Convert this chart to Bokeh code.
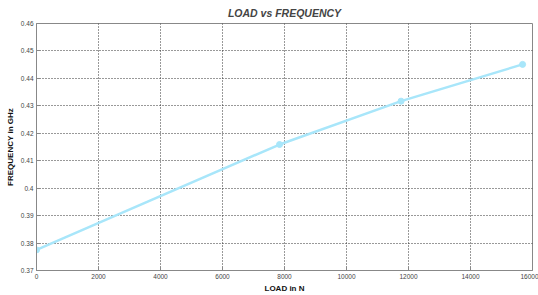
from bokeh.plotting import figure
from bokeh.models import FixedTicker, Range1d
from bokeh.embed import file_html
from bokeh.resources import INLINE

# data
load_n = [0, 7840, 11760, 15680]
freq_ghz = [0.3775, 0.4159, 0.4317, 0.4451]

x_ticks = [0, 2000, 4000, 6000, 8000, 10000, 12000, 14000, 16000]
x_tick_labels = ["0", "2000", "4000", "6000", "8000", "10000", "12000", "14000", "16000"]
y_ticks = [0.37, 0.38, 0.39, 0.40, 0.41, 0.42, 0.43, 0.44, 0.45, 0.46]
y_tick_labels = ["0.37", "0.38", "0.39", "0.4", "0.41", "0.42", "0.43", "0.44", "0.45", "0.46"]

FONT = "Liberation Sans"
LINE = "#a8e6fa"

p = figure(width=538, height=295, output_backend="svg", toolbar_location=None,
           x_range=Range1d(0, 16000), y_range=Range1d(0.37, 0.46),
           min_border_left=36, min_border_right=6, min_border_top=22, min_border_bottom=22,
           title="LOAD vs FREQUENCY")

p.title.text_font = FONT
p.title.text_font_size = "10.5px"
p.title.text_font_style = "bold italic"
p.title.align = "center"
p.title.offset = 0
p.title.standoff = 9

p.line(load_n, freq_ghz, line_color=LINE, line_width=2.5)
p.scatter(load_n, freq_ghz, size=6, fill_color=LINE, line_color=LINE)

p.xaxis.ticker = FixedTicker(ticks=x_ticks)
p.yaxis.ticker = FixedTicker(ticks=y_ticks)
p.xaxis.major_label_overrides = {t: s for t, s in zip(x_ticks, x_tick_labels)}
p.yaxis.major_label_overrides = {t: s for t, s in zip(y_ticks, y_tick_labels)}

p.xaxis.axis_label = "LOAD in N"
p.yaxis.axis_label = "FREQUENCY in GHz"

for ax in (p.xaxis[0], p.yaxis[0]):
    ax.axis_label_text_font = FONT
    ax.axis_label_text_font_size = "8px"
    ax.axis_label_text_font_style = "bold"
    ax.axis_label_text_color = "#111111"
    ax.major_label_text_font = FONT
    ax.major_label_text_font_size = "6.5px"
    ax.major_label_text_color = "#444444"
    ax.axis_line_color = "#888888"
    ax.major_tick_line_color = "#888888"
    ax.major_tick_in = 4
    ax.major_tick_out = 0
    ax.minor_tick_line_color = None

p.xaxis.major_label_standoff = 3
p.xaxis.axis_label_standoff = 2
p.yaxis.major_label_standoff = 3
p.yaxis.axis_label_standoff = 3

p.grid.grid_line_color = "#333333"
p.grid.grid_line_dash = "1 2"
p.grid.grid_line_width = 1
p.outline_line_color = "#888888"
p.outline_line_width = 1
p.background_fill_color = "white"
p.border_fill_color = "white"

open("out.html", "w").write(file_html(p, INLINE))
